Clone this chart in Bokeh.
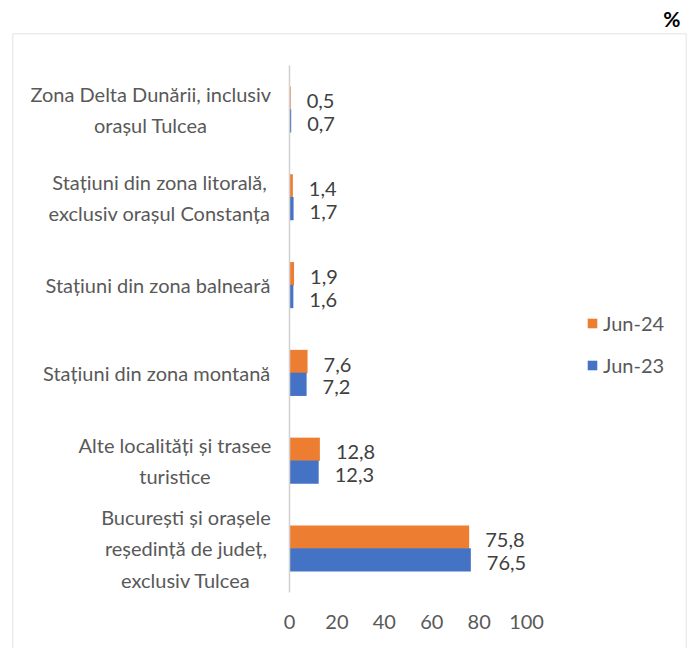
from bokeh.plotting import figure
from bokeh.models import ColumnDataSource, Range1d, FixedTicker, Legend, LegendItem, BoxAnnotation
from bokeh.transform import dodge
from bokeh.core.properties import value
from bokeh.embed import file_html
from bokeh.resources import INLINE

# ---------------- data ----------------
categories = [
    "Zona Delta Dunării, inclusiv\norașul Tulcea",
    "Stațiuni din zona litorală,\nexclusiv orașul Constanța",
    "Stațiuni din zona balneară",
    "Stațiuni din zona montană",
    "Alte localități și trasee\nturistice",
    "București și orașele\nreședință de județ,\nexclusiv Tulcea",
]
jun24 = [0.5, 1.4, 1.9, 7.6, 12.8, 75.8]
jun23 = [0.7, 1.7, 1.6, 7.2, 12.3, 76.5]
series_names = ["Jun-24", "Jun-23"]
x_ticks = [0, 20, 40, 60, 80, 100]
unit_label = "%"

# ---------------- style ----------------
FONT = "Lato"
FS = 20
ORANGE = "#ED7D31"
BLUE = "#4472C4"
GREY_TXT = "#595959"
VAL_TXT = "#404040"
BOX = "#D9D9D9"

# rough advance widths (em) used to centre multi-line category labels
_w = {c: 0.56 for c in "bdghnopqu"}
_w.update({"a": .50, "ă": .50, "c": .46, "e": .52, "f": .33, "i": .24, "j": .24,
           "k": .50, "l": .24, "m": .84, "r": .36, "s": .42, "ș": .42, "t": .35,
           "ț": .35, "v": .50, "w": .76, "x": .48, "y": .50, "z": .45,
           "A": .67, "B": .63, "C": .66, "D": .74, "S": .52, "T": .58, "Z": .60,
           ",": .22, " ": .19, "-": .33})


def text_width(s, size):
    return max(sum(_w.get(ch, 0.56) for ch in line) for line in s.split("\n")) * size


n = len(categories)
ypos = [n - 1 - i for i in range(n)]  # first category on top

src = ColumnDataSource(dict(
    cat=categories,
    y=ypos,
    j24=jun24,
    j23=jun23,
    l24=[f"{v:.1f}".replace(".", ",") for v in jun24],
    l23=[f"{v:.1f}".replace(".", ",") for v in jun23],
    off=[-(21 + text_width(c, FS) / 2) for c in categories],
))

X0, X1 = -116.9, 167.5
Y0, Y1 = -1.139, 5.866
p = figure(width=692, height=648, output_backend="svg", toolbar_location=None,
           x_range=Range1d(X0, X1), y_range=Range1d(Y0, Y1),
           min_border_left=12, min_border_right=6, min_border_top=33, min_border_bottom=0,
           title=unit_label, title_location="above")
p.outline_line_color = None
p.grid.visible = False
p.background_fill_color = "white"
p.border_fill_color = "white"

# chart-area border: open at the bottom (runs past the page edge)
p.add_layout(BoxAnnotation(bottom=Y0 - 2, fill_alpha=0, line_color=BOX, line_alpha=1,
                           line_width=1.5, level="underlay"))

p.title.align = "right"
p.title.text_font = FONT
p.title.text_font_size = "21px"
p.title.text_font_style = "bold"
p.title.text_color = "#000000"
p.title.offset = 6
p.title.standoff = 6

r24 = p.hbar(y=dodge("y", 0.13), left=0, right="j24", height=0.265,
             color=ORANGE, line_color=None, source=src)
r23 = p.hbar(y=dodge("y", -0.13), left=0, right="j23", height=0.265,
             color=BLUE, line_color=None, source=src)

for col, lab, dy in (("j24", "l24", 0.13), ("j23", "l23", -0.13)):
    p.text(x=col, y=dodge("y", dy), text=lab, source=src,
           x_offset=16, y_offset=3, text_font=value(FONT), text_font_size=f"{FS}px",
           text_color=VAL_TXT, text_baseline="middle", text_align="left")

p.text(x=0, y="y", text="cat", source=src, x_offset="off", text_align="center",
       text_baseline="middle", text_font=value(FONT), text_font_size=f"{FS}px",
       text_color=GREY_TXT, text_line_height=1.3)

# category axis line at x = 0, limited to the category band
yax = p.yaxis[0]
yax.fixed_location = 0
yax.bounds = (-0.5, n - 0.5)
yax.ticker = FixedTicker(ticks=[])
yax.major_tick_line_color = None
yax.minor_tick_line_color = None
yax.major_label_text_font_size = "0px"
yax.axis_line_color = "#D0D0D0"
yax.axis_line_width = 1.5

ax = p.xaxis[0]
ax.fixed_location = -0.5
ax.ticker = FixedTicker(ticks=x_ticks)
ax.axis_line_color = None
ax.major_tick_line_color = None
ax.minor_tick_line_color = None
ax.major_label_standoff = 17
ax.major_label_text_font = FONT
ax.major_label_text_font_size = f"{FS}px"
ax.major_label_text_color = GREY_TXT

legend = Legend(items=[LegendItem(label=series_names[0], renderers=[r24]),
                       LegendItem(label=series_names[1], renderers=[r23])],
                location=(574, 271), glyph_width=12, glyph_height=12, label_standoff=5,
                spacing=18, padding=0, margin=0, border_line_color=None,
                background_fill_alpha=0, label_text_font=FONT,
                label_text_font_size=f"{FS}px", label_text_color=GREY_TXT,
                label_height=20)
p.add_layout(legend)

open("out.html", "w").write(file_html(p, INLINE))
